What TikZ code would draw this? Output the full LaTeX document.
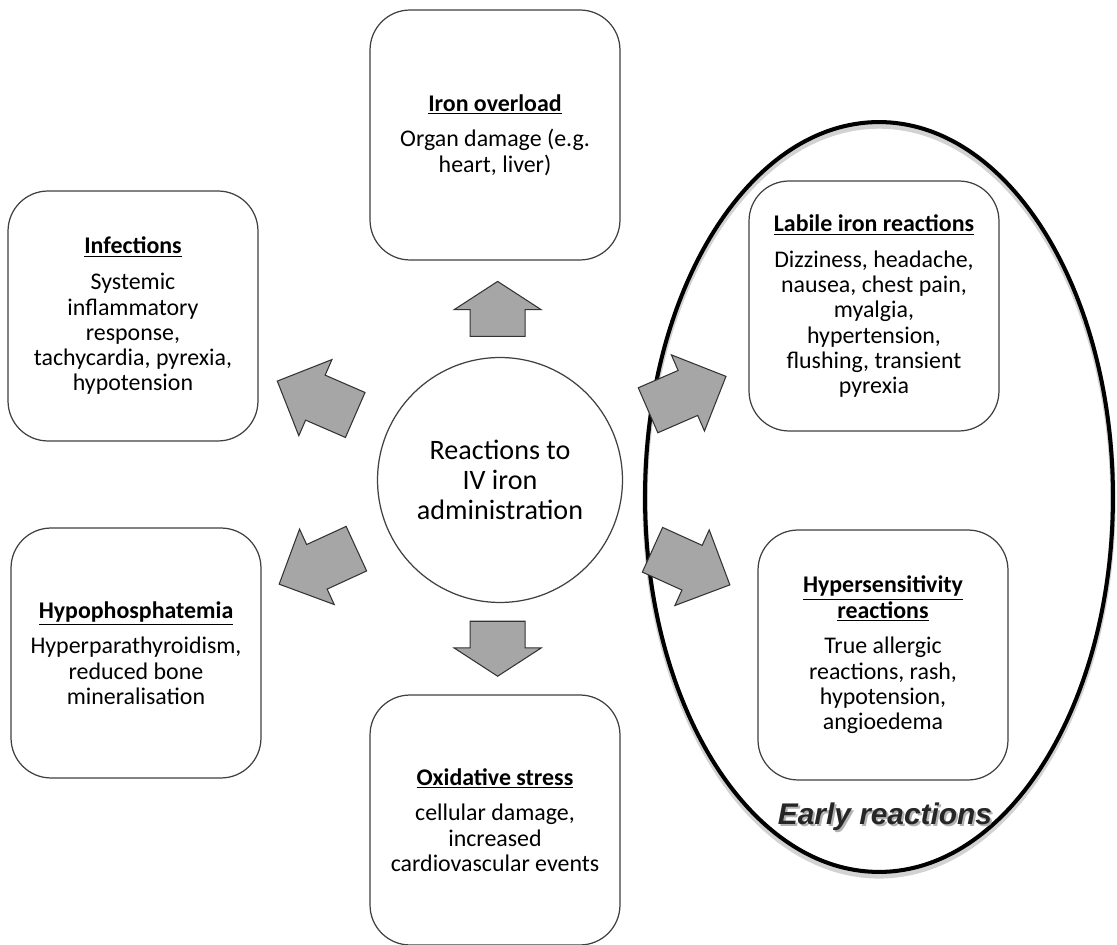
\documentclass[tikz,border=0pt]{standalone}
\usepackage{fontspec}
\setmainfont{Carlito}
\newfontfamily\labelfont{Liberation Sans}
\usetikzlibrary{calc,positioning,shapes}

\newcommand{\boxtitle}[1]{\underline{\textbf{#1}}}

\begin{document}
\begin{tikzpicture}[x=0.02cm, y=-0.02cm,
    effect/.style={draw=black!75, line width=0.7pt, fill=white, rounded corners=0.8cm,
        minimum width=5cm, minimum height=5cm, align=center,
        font=\fontsize{13.6}{14.4}\selectfont},
    hub/.style={draw=black!75, line width=0.7pt, fill=white, circle, minimum size=4.9cm,
        align=center, font=\fontsize{16}{17}\selectfont},
    bigarrow/.style={single arrow, draw=black!80, fill=gray!70, line width=0.6pt,
        inner xsep=0pt, inner ysep=0.48cm, minimum height=1.7cm,
        single arrow head extend=0.34cm},
    smallarrow/.style={bigarrow, inner ysep=0.54cm, minimum height=1.1cm,
        single arrow head extend=0.32cm, single arrow tip angle=114}]

    % page
    \fill[white] (0,0) rectangle (1117,945);
    \useasboundingbox (0,0) rectangle (1117,945);

    % the early reactions set
    \node[draw=gray!35, ellipse, line width=3pt, minimum width=9.36cm, minimum height=15cm] (earlyshade) at (879,501) {};
    \node[draw=black, ellipse, line width=2.3pt, minimum width=9.36cm, minimum height=15cm] (early) at (879,497) {};
    \node[font={\labelfont\bfseries\itshape\fontsize{17}{20}\selectfont}, text=gray!60] (earlylabelshade) at (887,819) {Early reactions};
    \node[font={\labelfont\bfseries\itshape\fontsize{17}{20}\selectfont}, text=black!85] (earlylabel) at (885,817) {Early reactions};

    % the centre
    \node[hub] (iv) at (500,480) {Reactions to\\IV iron\\administration};

    % the boxes round it
    \node[effect] (overload) at (495,135) {\boxtitle{Iron overload}\\[6pt]
        Organ damage (e.g.\\heart, liver)};
    \node[effect] (infections) at (133,316) {\boxtitle{Infections}\\[6pt]
        Systemic\\inflammatory\\response,\\tachycardia, pyrexia,\\hypotension};
    \node[effect] (labile) at (874,306) {\boxtitle{Labile iron reactions}\\[6pt]
        Dizziness, headache,\\nausea, chest pain,\\myalgia,\\hypertension,\\flushing, transient\\pyrexia};
    \node[effect] (hypo) at (136,653) {\boxtitle{Hypophosphatemia}\\[6pt]
        Hyperparathyroidism,\\reduced bone\\mineralisation};
    \node[effect] (hyper) at (883,655) {\boxtitle{Hypersensitivity}\\\boxtitle{reactions}\\[6pt]
        True allergic\\reactions, rash,\\hypotension,\\angioedema};
    \node[effect] (oxidative) at (495,820) {\boxtitle{Oxidative stress}\\[6pt]
        cellular damage,\\increased\\cardiovascular events};

    % the arrows, about half way between the centre and each box
    \node[smallarrow, rotate=90] (toOverload) at ($(iv)!0.47!(overload)$) {};
    \node[smallarrow, rotate=-90] (toOxidative) at ($(iv)!0.47!(oxidative)$) {};
    \node[bigarrow, rotate=156.5] (toInfections) at ($(iv)!0.47!(infections)$) {};
    \node[bigarrow, rotate=204.7] (toHypo) at ($(iv)!0.47!(hypo)$) {};
    \node[bigarrow, rotate=23.5] (toLabile) at ($(iv)!0.47!(labile)$) {};
    \node[bigarrow, rotate=-24.4] (toHyper) at ($(iv)!0.47!(hyper)$) {};

\end{tikzpicture}
\end{document}
